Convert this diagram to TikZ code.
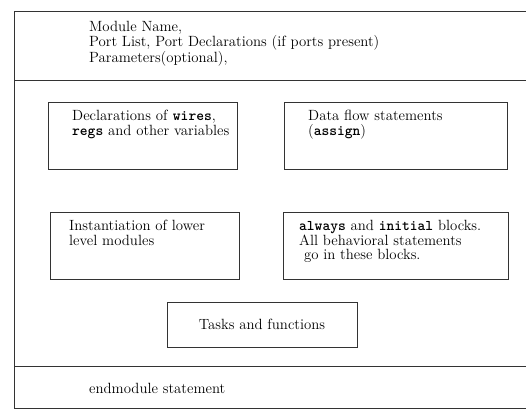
\documentclass[tikz,border=0pt]{standalone}
\usetikzlibrary{positioning}
\tikzset{
  frame/.style={draw=black!80,line width=1pt},
  blk/.style={rectangle,draw=black!80,line width=.9pt,anchor=north west,inner sep=0pt},
  txt/.style={font=\fontsize{14.8}{14.6}\selectfont,align=left,anchor=north west,inner sep=0pt},
}
\begin{document}
\begin{tikzpicture}[x=1pt,y=-1pt]
  \clip (0,0) rectangle (526,410);
  % module outline, open to the right
  \node[blk,line width=1pt,minimum width=540pt,minimum height=397pt] (module) at (14,11) {};
  \draw[frame] (14,80) -- (540,80);
  \draw[frame] (14,366) -- (540,366);
  \node[txt] (head) at (89,21.5) {Module Name,\\Port List, Port Declarations (if ports present)\\Parameters(optional),};
  % inner blocks
  \node[blk,minimum width=189pt,minimum height=67pt] (decl) at (48,102) {};
  \node[blk,minimum width=223pt,minimum height=67pt] (flow) at (284,102) {};
  \node[blk,minimum width=189pt,minimum height=67pt] (inst) at (50,212) {};
  \node[blk,minimum width=225pt,minimum height=67pt] (behav) at (283,212) {};
  \node[blk,minimum width=190pt,minimum height=45pt,font=\fontsize{14.8}{14.6}\selectfont,anchor=center] (tasks) at (262,324.5) {Tasks and functions};
  \node[txt,below right=8pt and 24pt of decl.north west] (decltext) {Declarations of \texttt{\textbf{wires}},\\\texttt{\textbf{regs}} and other variables};
  \node[txt,below right=8pt and 24pt of flow.north west] (flowtext) {Data flow statements\\(\texttt{\textbf{assign}})};
  \node[txt,below right=8pt and 19pt of inst.north west] (insttext) {Instantiation of lower\\level modules};
  \node[txt,below right=8pt and 16pt of behav.north west] (behavtext) {\texttt{\textbf{always}} and \texttt{\textbf{initial}} blocks.\\All behavioral statements\\\ go in these blocks.};
  \node[txt] (endtext) at (89,383) {endmodule statement};
\end{tikzpicture}
\end{document}
